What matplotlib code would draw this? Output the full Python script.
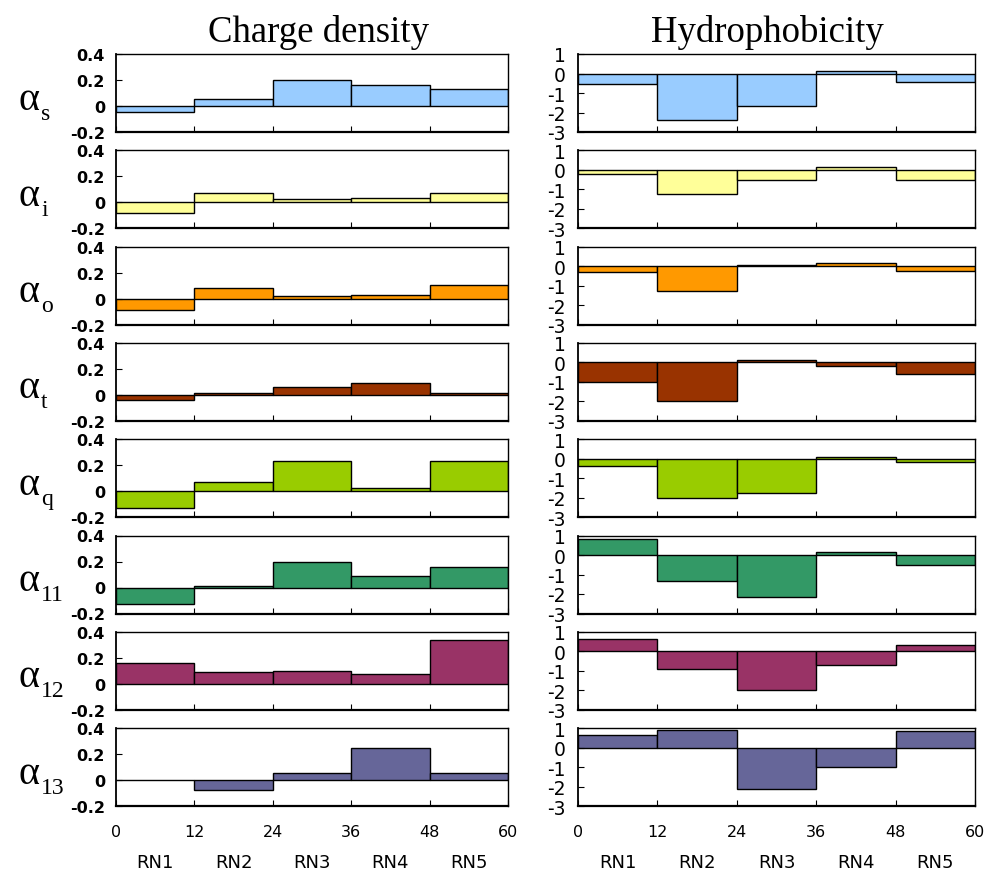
import matplotlib
matplotlib.use("Agg")
import matplotlib.pyplot as plt

# ---- data ----
bin_edges = [0, 12, 24, 36, 48, 60]
regions = ["RN1", "RN2", "RN3", "RN4", "RN5"]
row_names = ["s", "i", "o", "t", "q", "11", "12", "13"]
colors = ["#99CCFF", "#FFFF99", "#FF9900", "#993300",
          "#99CC00", "#339966", "#993366", "#666699"]

charge_s = [-0.043, 0.053, 0.200, 0.164, 0.131]
charge_i = [-0.085, 0.068, 0.025, 0.033, 0.075]
charge_o = [-0.087, 0.082, 0.018, 0.028, 0.107]
charge_t = [-0.038, 0.018, 0.060, 0.093, 0.018]
charge_q = [-0.127, 0.068, 0.235, 0.023, 0.235]
charge_11 = [-0.130, 0.008, 0.193, 0.088, 0.155]
charge_12 = [0.162, 0.090, 0.097, 0.077, 0.336]
charge_13 = [0.000, -0.077, 0.056, 0.246, 0.056]

hydro_s = [-0.53, -2.37, -1.67, 0.12, -0.43]
hydro_i = [-0.23, -1.25, -0.54, 0.12, -0.54]
hydro_o = [-0.29, -1.30, 0.07, 0.14, -0.24]
hydro_t = [-1.02, -1.97, 0.14, -0.19, -0.59]
hydro_q = [-0.36, -2.00, -1.78, 0.07, -0.17]
hydro_11 = [0.80, -1.33, -2.17, 0.14, -0.49]
hydro_12 = [0.64, -0.91, -2.00, -0.72, 0.34]
hydro_13 = [0.66, 0.91, -2.10, -0.97, 0.84]

charge = [charge_s, charge_i, charge_o, charge_t, charge_q, charge_11, charge_12, charge_13]
hydro = [hydro_s, hydro_i, hydro_o, hydro_t, hydro_q, hydro_11, hydro_12, hydro_13]

charge_ticks = [-0.2, 0, 0.2, 0.4]
charge_ticklabels = ["-0.2", "0", "0.2", "0.4"]
hydro_ticks = [-3, -2, -1, 0, 1]
hydro_ticklabels = ["-3", "-2", "-1", "0", "1"]

# ---- figure ----
W, H = 986, 878
fig = plt.figure(figsize=(W / 100, H / 100), dpi=100)

row_tops = [55 + i * 96.3 for i in range(8)]
row_h = 78
cols = [(116, 508), (578, 975)]

lefts = bin_edges[:-1]
widths = [bin_edges[k + 1] - bin_edges[k] for k in range(5)]

def px_rect(x0, x1, top, h):
    return [x0 / W, 1 - (top + h) / H, (x1 - x0) / W, h / H]

for r in range(8):
    for c in range(2):
        x0, x1 = cols[c]
        ax = fig.add_axes(px_rect(x0, x1, row_tops[r], row_h))
        vals = charge[r] if c == 0 else hydro[r]
        ax.bar(lefts, vals, width=widths, align="edge", color=colors[r],
               edgecolor="black", linewidth=1.0)
        ax.set_xlim(0, 60)
        if c == 0:
            ax.set_ylim(-0.2, 0.4)
            ax.set_yticks(charge_ticks)
            ax.set_yticklabels(charge_ticklabels, fontsize=11.5, fontweight="bold")
            ax.tick_params(axis="y", pad=8)
        else:
            ax.set_ylim(-3, 1)
            ax.set_yticks(hydro_ticks)
            ax.set_yticklabels(hydro_ticklabels, fontsize=13.5)
            ax.tick_params(axis="y", pad=9)
        ax.set_xticks(bin_edges)
        ax.tick_params(axis="both", direction="in", length=4, width=0.8,
                       top=False, right=False)
        for s in ax.spines.values():
            s.set_linewidth(1.0)
            s.set_color("black")
        ax.spines["bottom"].set_linewidth(1.6)
        ax.spines["left"].set_linewidth(1.3)
        if r == 7:
            ax.set_xticklabels([str(e) for e in bin_edges], fontsize=11.5)
            ax.tick_params(axis="x", pad=13)
            for k, name in enumerate(regions):
                ax.text(lefts[k] + widths[k] / 2, -0.72, name,
                        transform=ax.get_xaxis_transform(),
                        ha="center", va="center", fontsize=13)
        else:
            ax.set_xticklabels([])

    # row label
    yc = row_tops[r] + row_h / 2
    fig.text(18 / W, 1 - (yc + 6) / H, "α", family="Liberation Serif",
             fontsize=29, ha="left", va="center")
    fig.text(41 / W, 1 - (yc + 20) / H, row_names[r], family="Liberation Serif",
             fontsize=17, ha="left", va="center")

fig.text(318 / W, 1 - 32 / H, "Charge density", family="Liberation Serif",
         fontsize=26.5, ha="center", va="center")
fig.text(767 / W, 1 - 32 / H, "Hydrophobicity", family="Liberation Serif",
         fontsize=26.5, ha="center", va="center")

fig.savefig("out.png", dpi=100)
